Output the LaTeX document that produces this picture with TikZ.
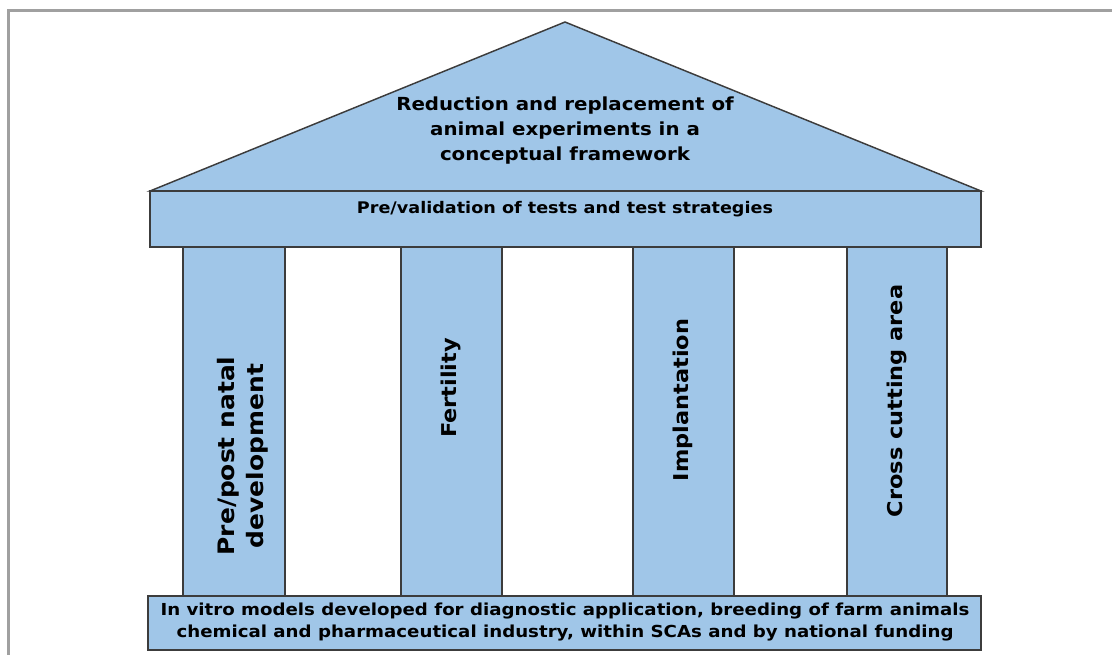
\documentclass[tikz,border=0pt]{standalone}
\usepackage{fontspec}
\setmainfont{DejaVu Sans}[FakeStretch=1.1]
\definecolor{pil}{HTML}{A0C6E8}
\definecolor{edge}{HTML}{3C3C3C}
\definecolor{frm}{HTML}{A0A0A0}
\begin{document}
\begin{tikzpicture}[x=0.75pt,y=-0.75pt,
  part/.style={fill=pil,draw=edge,line width=1.1pt,line join=miter},
  lbl/.style={font=\bfseries\fontsize{13.5}{18.75}\selectfont,align=center,inner sep=0pt},
  collbl/.style={font=\bfseries\fontsize{15.3}{21.75}\selectfont,align=center,inner sep=0pt,rotate=90},
  smalllbl/.style={font=\bfseries\fontsize{12}{12}\selectfont,align=center,inner sep=0pt}]
\useasboundingbox (0,0) rectangle (1112,654);
% frame
\draw[frm,line width=2.25pt] (8,660) -- (8,10) -- (1120,10);
% roof
\draw[part] (150,191) -- (565,22) -- (981,191) -- cycle;
\draw[part] (150,191) rectangle (981,247);
% columns
\draw[part] (183,247) rectangle (285,596);
\draw[part] (401,247) rectangle (502,596);
\draw[part] (633,247) rectangle (734,596);
\draw[part] (847,247) rectangle (947,596);
% base
\draw[part] (148,596) rectangle (981,650);
% texts
\node[lbl] (roof) at (565,131) {Reduction and replacement of\\animal experiments in a\\conceptual framework};
\node[smalllbl] (ent) at (565,209) {Pre/validation of tests and test strategies};
\node[collbl,font=\bfseries\fontsize{17}{21.75}\selectfont] (c1) at (243,456) {Pre/post natal\\development};
\node[collbl] (c2) at (451,388) {Fertility};
\node[collbl] (c3) at (683,400) {Implantation};
\node[collbl] (c4) at (897,401) {Cross cutting area};
\node[smalllbl,font=\bfseries\fontsize{12.4}{16.5}\selectfont] (base) at (565,622) {In vitro models developed for diagnostic application, breeding of farm animals\\chemical and pharmaceutical industry, within SCAs and by national funding};
\end{tikzpicture}
\end{document}
